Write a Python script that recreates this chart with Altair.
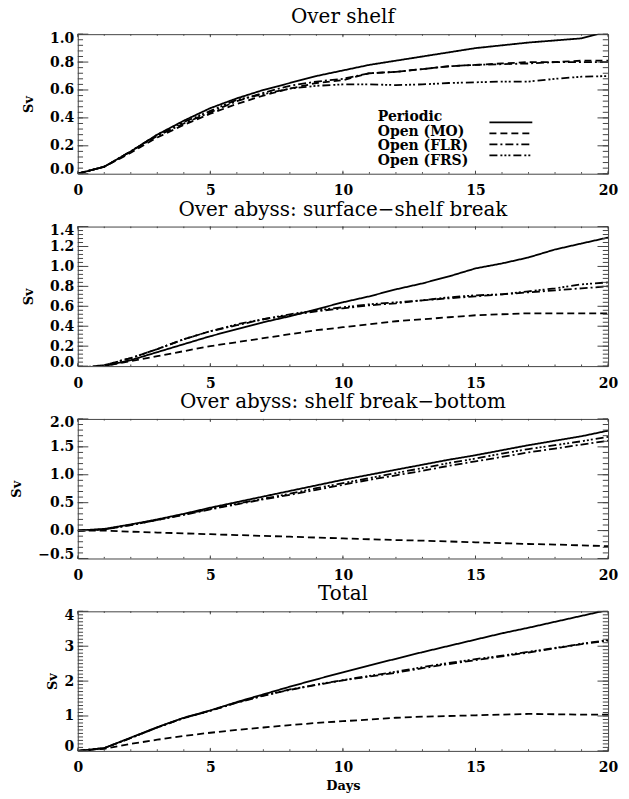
import altair as alt
import pandas as pd

# ---- data (Sv, one value per day) ----
days = list(range(21))
series_names = ["Periodic", "Open (MO)", "Open (FLR)", "Open (FRS)"]
dash_styles = [[1, 0], [7, 4], [8, 3, 2, 3], [8, 3, 2, 2, 2, 2, 2, 3]]

shelf_periodic = [0.0, 0.05, 0.16, 0.28, 0.38, 0.47, 0.54, 0.60, 0.65, 0.70, 0.74,
                  0.78, 0.81, 0.84, 0.87, 0.90, 0.92, 0.94, 0.955, 0.97, 1.02]
shelf_mo = [0.0, 0.05, 0.15, 0.26, 0.35, 0.43, 0.50, 0.56, 0.61, 0.65, 0.67,
            0.72, 0.73, 0.75, 0.77, 0.78, 0.79, 0.80, 0.80, 0.81, 0.81]
shelf_flr = [0.0, 0.05, 0.16, 0.27, 0.36, 0.44, 0.52, 0.58, 0.63, 0.66, 0.68,
             0.72, 0.73, 0.75, 0.77, 0.78, 0.785, 0.79, 0.80, 0.80, 0.80]
shelf_frs = [0.0, 0.05, 0.16, 0.28, 0.37, 0.45, 0.53, 0.57, 0.61, 0.63, 0.64,
             0.64, 0.635, 0.64, 0.65, 0.655, 0.66, 0.66, 0.68, 0.695, 0.70]

upper_periodic = [-0.02, 0.0, 0.06, 0.14, 0.22, 0.30, 0.37, 0.44, 0.50, 0.57, 0.64,
                  0.70, 0.77, 0.83, 0.90, 0.98, 1.03, 1.09, 1.17, 1.23, 1.29]
upper_mo = [-0.02, 0.0, 0.05, 0.10, 0.15, 0.20, 0.24, 0.28, 0.32, 0.36, 0.39,
            0.42, 0.45, 0.47, 0.49, 0.51, 0.52, 0.53, 0.53, 0.53, 0.53]
upper_flr = [-0.02, 0.01, 0.08, 0.17, 0.27, 0.35, 0.41, 0.47, 0.51, 0.55, 0.58,
             0.61, 0.63, 0.66, 0.68, 0.70, 0.72, 0.74, 0.76, 0.78, 0.80]
upper_frs = [-0.02, 0.01, 0.08, 0.17, 0.27, 0.35, 0.42, 0.47, 0.52, 0.56, 0.59,
             0.62, 0.64, 0.66, 0.69, 0.71, 0.72, 0.75, 0.78, 0.82, 0.84]

lower_periodic = [0.0, 0.03, 0.11, 0.20, 0.30, 0.41, 0.51, 0.61, 0.71, 0.81, 0.91,
                  1.00, 1.09, 1.18, 1.27, 1.35, 1.44, 1.53, 1.61, 1.69, 1.79]
lower_mo = [0.0, 0.0, -0.02, -0.035, -0.05, -0.065, -0.08, -0.095, -0.11, -0.125, -0.14,
            -0.155, -0.17, -0.18, -0.195, -0.21, -0.225, -0.24, -0.25, -0.265, -0.28]
lower_flr = [0.0, 0.02, 0.10, 0.19, 0.28, 0.38, 0.47, 0.56, 0.64, 0.73, 0.82,
             0.91, 0.99, 1.07, 1.16, 1.24, 1.32, 1.40, 1.47, 1.54, 1.61]
lower_frs = [0.0, 0.02, 0.10, 0.19, 0.29, 0.39, 0.48, 0.57, 0.66, 0.76, 0.85,
             0.94, 1.03, 1.12, 1.21, 1.29, 1.38, 1.46, 1.53, 1.60, 1.68]

total_periodic = [0.0, 0.08, 0.38, 0.68, 0.95, 1.16, 1.40, 1.62, 1.84, 2.05, 2.25,
                  2.45, 2.64, 2.83, 3.01, 3.19, 3.37, 3.53, 3.70, 3.87, 4.04]
total_mo = [0.0, 0.06, 0.20, 0.32, 0.43, 0.52, 0.60, 0.67, 0.74, 0.80, 0.85,
            0.90, 0.95, 0.98, 1.00, 1.02, 1.04, 1.06, 1.05, 1.04, 1.04]
total_flr = [0.0, 0.08, 0.37, 0.67, 0.94, 1.15, 1.38, 1.58, 1.75, 1.89, 2.02,
             2.13, 2.24, 2.37, 2.49, 2.60, 2.71, 2.82, 2.94, 3.06, 3.16]
total_frs = [0.0, 0.08, 0.37, 0.67, 0.94, 1.15, 1.39, 1.59, 1.76, 1.90, 2.03,
             2.15, 2.27, 2.40, 2.52, 2.63, 2.73, 2.84, 2.95, 3.07, 3.18]

panel_titles = ["Over shelf", "Over abyss: surface\u2212shelf break",
                "Over abyss: shelf break\u2212bottom", "Total"]
panel_series = [
    [shelf_periodic, shelf_mo, shelf_flr, shelf_frs],
    [upper_periodic, upper_mo, upper_flr, upper_frs],
    [lower_periodic, lower_mo, lower_flr, lower_frs],
    [total_periodic, total_mo, total_flr, total_frs],
]
y_domains = [[0.0, 1.0], [0.0, 1.4], [-0.5, 2.0], [0.0, 4.0]]
y_major_step = [0.2, 0.2, 0.5, 1.0]
y_minor_step = [0.04, 0.04, 0.1, 0.1]
y_formats = [".1f", ".1f", ".1f", "d"]
x_major = [0, 5, 10, 15, 20]

# ---- styling ----
W, H = 532, 140
FRAME = "#444444"
SERIF = "DejaVu Serif"
Y_TICK_MAJOR, Y_TICK_MINOR = 10.6, 5.3
X_TICK_MAJOR, X_TICK_MINOR = 3.0, 1.6

dash_scale = alt.Scale(domain=series_names, range=dash_styles)
x_scale = alt.Scale(domain=[0, 20], nice=False, zero=False)


def ticks_between(lo, hi, step):
    n = int(round((hi - lo) / step))
    return [round(lo + i * step, 4) for i in range(n + 1)]


def tick_rules(values, scale, axis, along, length):
    """Inward tick marks on both opposite sides of the frame."""
    df = pd.DataFrame({"v": values})
    base = alt.Chart(df).mark_rule(color=FRAME, strokeWidth=1)
    if along == "y":
        enc = alt.Y("v:Q", scale=scale, axis=axis)
        side_a = base.encode(y=enc, x=alt.value(0), x2=alt.value(length))
        side_b = base.encode(y=enc, x=alt.value(W - length), x2=alt.value(W))
    else:
        enc = alt.X("v:Q", scale=scale, axis=axis)
        side_a = base.encode(x=enc, y=alt.value(H), y2=alt.value(H - length))
        side_b = base.encode(x=enc, y=alt.value(0), y2=alt.value(length))
    return [side_a, side_b]


def make_panel(i):
    names, values, day_col = [], [], []
    for name, vals in zip(series_names, panel_series[i]):
        names += [name] * len(days)
        values += vals
        day_col += days
    df = pd.DataFrame({"day": day_col, "sv": values, "series": names})

    lo, hi = y_domains[i]
    y_scale = alt.Scale(domain=[lo, hi], nice=False, zero=False)
    majors = ticks_between(lo, hi, y_major_step[i])
    minors = ticks_between(lo, hi, y_minor_step[i])

    last = i == 3
    x_axis = alt.Axis(values=x_major, format="d", ticks=False, domain=False, grid=False,
                      labelFlush=False, labelOverlap=False, labelPadding=10,
                      title="Days" if last else None, titlePadding=5)
    y_axis = alt.Axis(values=majors, format=y_formats[i], ticks=False, domain=False,
                      grid=False, labelFlush=True, labelFlushOffset=3,
                      labelOverlap=False, labelPadding=4,
                      title="Sv", titlePadding=5 if last else 14)

    lines = alt.Chart(df).mark_line(color="black", strokeWidth=1.8, clip=True).encode(
        x=alt.X("day:Q", scale=x_scale, axis=x_axis),
        y=alt.Y("sv:Q", scale=y_scale, axis=y_axis),
        strokeDash=alt.StrokeDash("series:N", scale=dash_scale, legend=None),
        detail="series:N",
    )

    layers = [lines]
    layers += tick_rules(minors, y_scale, y_axis, "y", Y_TICK_MINOR)
    layers += tick_rules(majors, y_scale, y_axis, "y", Y_TICK_MAJOR)
    layers += tick_rules(days, x_scale, x_axis, "x", X_TICK_MINOR)
    layers += tick_rules(x_major, x_scale, x_axis, "x", X_TICK_MAJOR)
    body = alt.layer(*layers)

    title = alt.TitleParams(panel_titles[i], font=SERIF, fontSize=20, fontWeight="normal",
                            color="black", anchor="middle", frame="group", offset=4)

    if i == 0:
        legend_df = pd.DataFrame({"series": series_names})
        leg_y = alt.Y("series:N", axis=None,
                      scale=alt.Scale(domain=series_names, range=[83, 127], padding=0))
        leg_text = alt.Chart(legend_df).mark_text(
            align="left", baseline="middle", font=SERIF, fontSize=14,
            fontWeight="bold", color="black"
        ).encode(x=alt.value(301), y=leg_y, text="series:N")
        leg_line = alt.Chart(legend_df).mark_rule(color="black", strokeWidth=1.8).encode(
            x=alt.value(413), x2=alt.value(456), y=leg_y,
            strokeDash=alt.StrokeDash("series:N", scale=dash_scale, legend=None),
        )
        panel = alt.layer(body, leg_text, leg_line).resolve_scale(y="independent")
    else:
        panel = body
    return panel.properties(width=W, height=H, title=title)


chart = alt.vconcat(*[make_panel(i) for i in range(4)], spacing=0).properties(
    padding={"left": 10, "top": 5, "right": 10, "bottom": 4},
    background="white",
).configure_view(
    stroke=FRAME, strokeWidth=1
).configure_axis(
    labelFont=SERIF, labelFontWeight="bold", labelFontSize=14, labelColor="black",
    titleFont=SERIF, titleFontWeight="bold", titleFontSize=13, titleColor="black",
)

chart.save("out.html", embed_options={"renderer": "svg", "actions": False})
